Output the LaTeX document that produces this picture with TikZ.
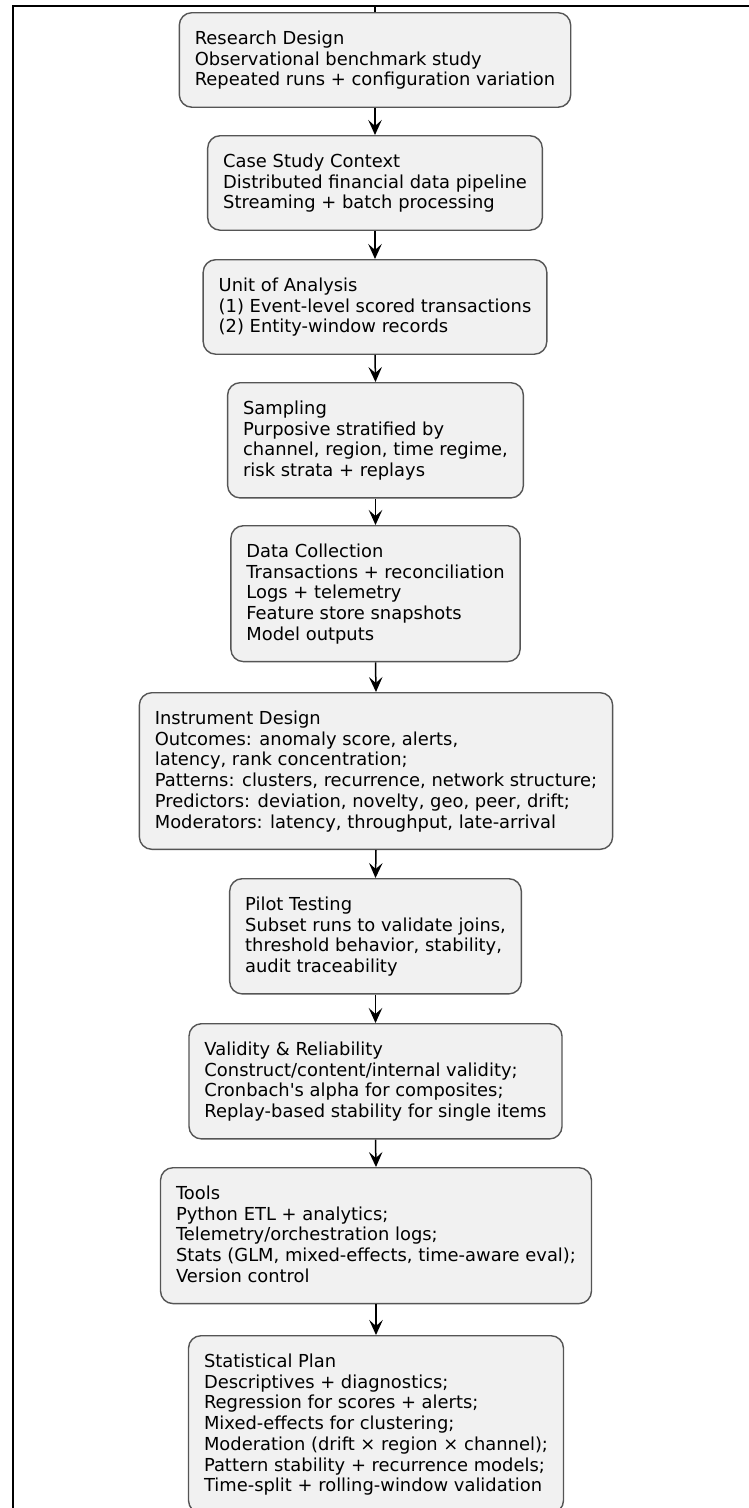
\documentclass[tikz,border=0pt]{standalone}
\usepackage{fontspec}
\setmainfont{DejaVu Sans}[Ligatures=TeXOff]
\usetikzlibrary{arrows.meta}
\definecolor{boxfill}{HTML}{F1F1F1}
\definecolor{boxline}{HTML}{555555}
% one strut per line keeps every line of every box on the same pitch
\newcommand\lstrut{\rule[-5pt]{0pt}{20.5pt}}
\begin{document}
\begin{tikzpicture}[x=1pt,y=-1pt,
  stepbox/.style={draw=boxline, fill=boxfill, line width=1.4pt,
    rounded corners=12.5pt, align=left, anchor=north,
    inner xsep=15.5pt, inner ysep=16.3pt,
    font=\fontsize{17.9}{20.7}\selectfont},
  flow/.style={draw=black, line width=1.5pt,
    -{Stealth[length=15pt,width=13.5pt,inset=6pt]}},
  frameline/.style={draw=black, line width=2pt}]
\useasboundingbox (0,0) rectangle (749,1508);

% outer frame
\draw[frameline] (13,1508) -- (13,6) -- (749,6);
\coordinate (entry) at (375,6);

\node[stepbox] (design) at (375,12) {\lstrut Research Design\\
\lstrut Observational benchmark study\\
\lstrut Repeated runs + configuration variation};

\node[stepbox] (context) at (375,135) {\lstrut Case Study Context\\
\lstrut Distributed financial data pipeline\\
\lstrut Streaming + batch processing};

\node[stepbox] (unit) at (375,259) {\lstrut Unit of Analysis\\
\lstrut (1) Event-level scored transactions\\
\lstrut (2) Entity-window records};

\node[stepbox] (sampling) at (375.5,382) {\lstrut Sampling\\
\lstrut Purposive stratified by\\
\lstrut channel, region, time regime,\\
\lstrut risk strata + replays};

\node[stepbox] (collect) at (375.5,525) {\lstrut Data Collection\\
\lstrut Transactions + reconciliation\\
\lstrut Logs + telemetry\\
\lstrut Feature store snapshots\\
\lstrut Model outputs};

\node[stepbox] (instrument) at (376,692) {\lstrut Instrument Design\\
\lstrut Outcomes: anomaly score, alerts,\\
\lstrut latency, rank concentration;\\
\lstrut Patterns: clusters, recurrence, network structure;\\
\lstrut Predictors: deviation, novelty, geo, peer, drift;\\
\lstrut Moderators: latency, throughput, late-arrival};

\node[stepbox] (pilot) at (375.5,878) {\lstrut Pilot Testing\\
\lstrut Subset runs to validate joins,\\
\lstrut threshold behavior, stability,\\
\lstrut audit traceability};

\node[stepbox] (validity) at (375.5,1023) {\lstrut Validity \& Reliability\\
\lstrut Construct/content/internal validity;\\
\lstrut Cronbach's alpha for composites;\\
\lstrut Replay-based stability for single items};

\node[stepbox] (tools) at (376,1167) {\lstrut Tools\\
\lstrut Python ETL + analytics;\\
\lstrut Telemetry/orchestration logs;\\
\lstrut Stats (GLM, mixed-effects, time-aware eval);\\
\lstrut Version control};

\node[stepbox] (stats) at (376,1335) {\lstrut Statistical Plan\\
\lstrut Descriptives + diagnostics;\\
\lstrut Regression for scores + alerts;\\
\lstrut Mixed-effects for clustering;\\
\lstrut Moderation (drift × region × channel);\\
\lstrut Pattern stability + recurrence models;\\
\lstrut Time-split + rolling-window validation};

% connectors
\draw[line width=1.5pt] (entry) -- (design.north);
\draw[flow] (design.south) -- (context.north);
\draw[flow] (context.south) -- (unit.north);
\draw[flow] (unit.south) -- (sampling.north);
\draw[flow] (sampling.south) -- (collect.north);
\draw[flow] (collect.south) -- (instrument.north);
\draw[flow] (instrument.south) -- (pilot.north);
\draw[flow] (pilot.south) -- (validity.north);
\draw[flow] (validity.south) -- (tools.north);
\draw[flow] (tools.south) -- (stats.north);
\end{tikzpicture}
\end{document}
